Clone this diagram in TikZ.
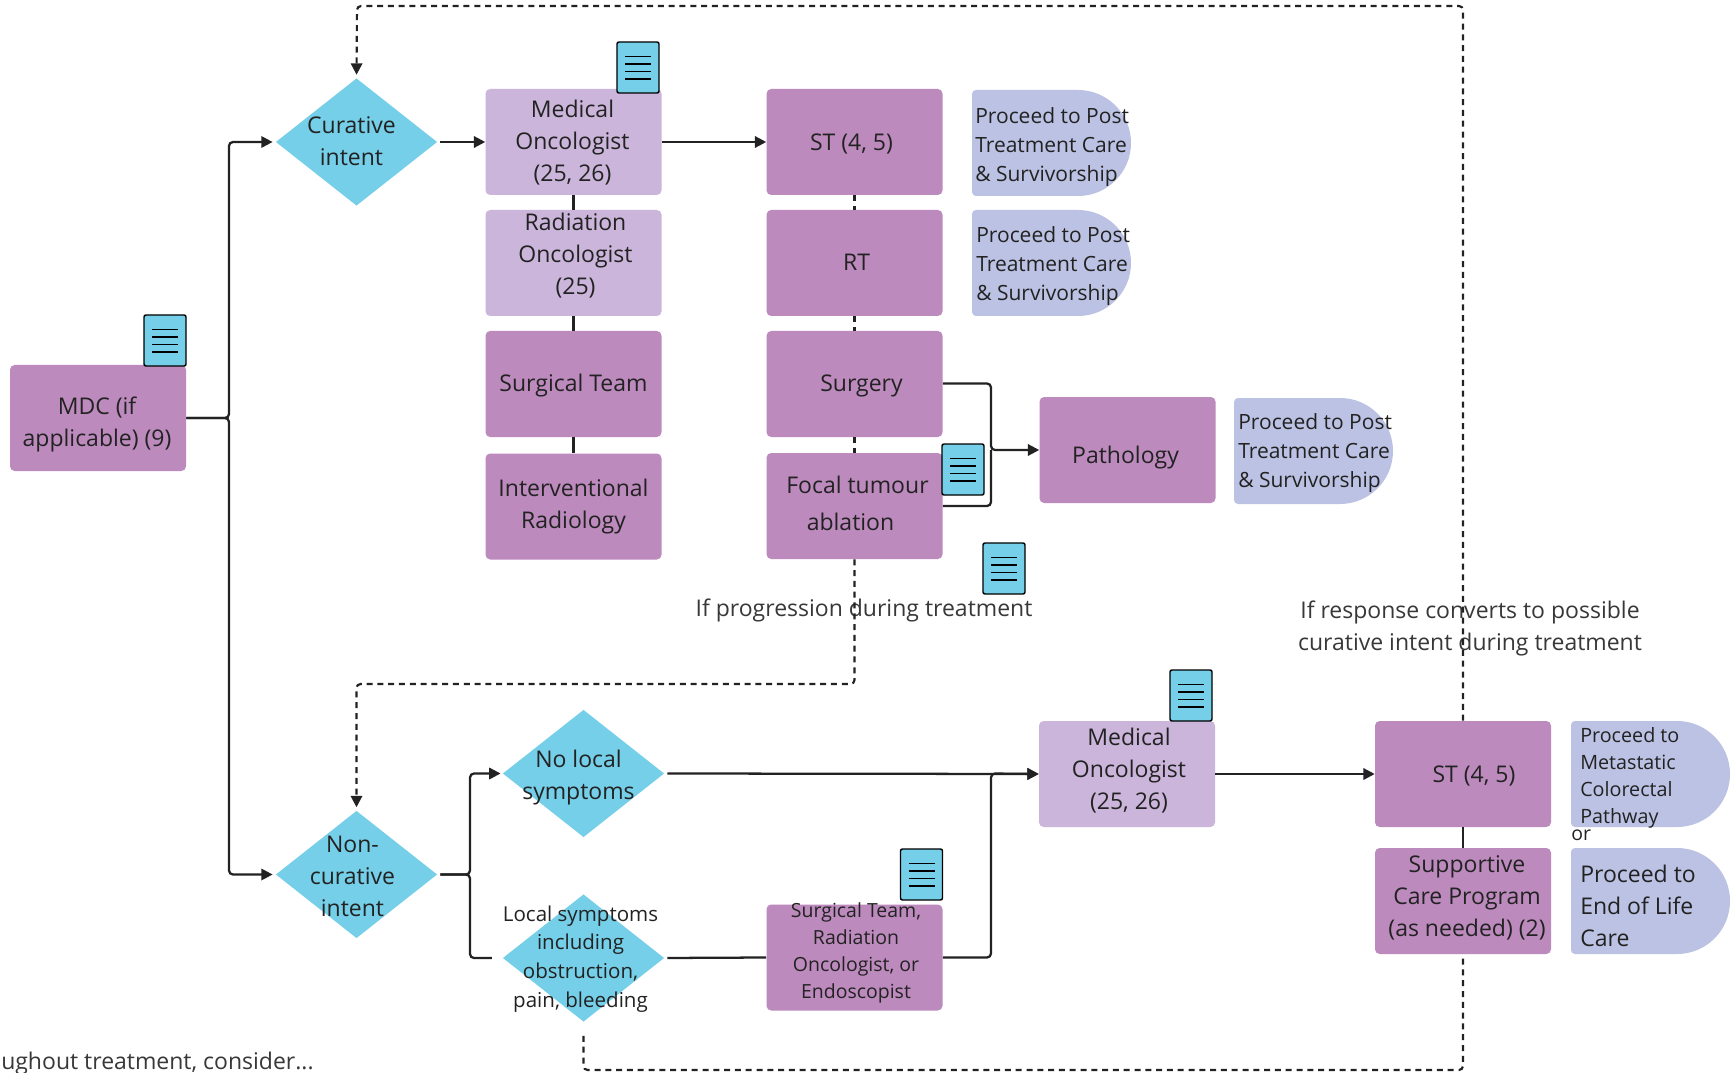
\documentclass[tikz,border=0pt]{standalone}
\usepackage{fontspec}
\setmainfont{Open Sans}
\usetikzlibrary{arrows.meta,shapes.geometric}
\definecolor{darkp}{HTML}{BC8ABD}
\definecolor{lightp}{HTML}{CBB5DA}
\definecolor{procb}{HTML}{BCC2E3}
\definecolor{cyanb}{HTML}{75CFE8}
\definecolor{ink}{HTML}{222222}
\tikzset{
  x=0.75pt,y=-0.75pt,
  boxbase/.style={rectangle,rounded corners=3.5pt,minimum width=132pt,minimum height=79.5pt,inner sep=0pt},
  darkbox/.style={boxbase,fill=darkp},
  lightbox/.style={boxbase,fill=lightp},
  dia/.style={diamond,aspect=1.27,fill=cyanb,minimum width=121pt,minimum height=95.5pt,inner sep=0pt},
  txt/.style={font=\fontsize{17.25}{24}\selectfont,align=center,text=ink,inner sep=0pt},
  txts/.style={font=\fontsize{14.6}{20.25}\selectfont,align=center,text=ink,inner sep=0pt},
  txtd/.style={font=\fontsize{15.4}{21.6}\selectfont,align=center,text=ink,inner sep=0pt},
  txtp/.style={font=\fontsize{15.75}{21.75}\selectfont,align=left,anchor=west,text=ink,inner sep=0pt},
  lab/.style n args={3}{label={[txt,shift={(#1,#2)}]center:{#3}}},
  labs/.style n args={3}{label={[txts,shift={(#1,#2)}]center:{#3}}},
  labd/.style n args={3}{label={[txtd,shift={(#1,#2)}]center:{#3}}},
  plain/.style={txt,text=ink!90},
  conn/.style={draw=ink,line width=1.7pt,rounded corners=3pt},
  arr/.style={-{Triangle[length=8.5pt,width=8.5pt]}},
  dashline/.style={draw=ink,line width=1.6pt,rounded corners=3pt,dash pattern=on 4.5pt off 3.6pt},
  procfill/.style={fill=procb},
  docicon/.pic={
    \draw[fill=cyanb,draw=black,line width=1.1pt,rounded corners=1.5pt] (-21,-25.5) rectangle (21,25.5);
    \foreach \yy in {-11,-3.5,4,11.5} \draw[black,line width=0.9pt] (-13,\yy) -- (13,\yy);
  }
}
\newcommand{\procshape}[2]{\fill[procfill,rounded corners=0pt] (#1+4,#2) -- (#1+106,#2) arc[start angle=90,end angle=-90,radius=39.75pt] -- (#1+4,#2+106) arc[start angle=270,end angle=180,radius=3pt] -- (#1,#2+4) arc[start angle=180,end angle=90,radius=3pt] -- cycle;}
\begin{document}
\begin{tikzpicture}
\useasboundingbox (0,0) rectangle (1732,1073);
\fill[white] (0,0) rectangle (1732,1073);
% proceed shapes
\procshape{972}{90}
\procshape{972}{210}
\procshape{1234}{398}
\procshape{1571}{721}
\procshape{1571}{848}
% boxes
\node[darkbox,lab={-1}{6}{MDC (if\\applicable) (9)}] (mdc) at (98,418) {};
\node[dia,lab={-5}{-1}{Curative\\intent}] (cur) at (356.5,142) {};
\node[lightbox,lab={-1}{0.5}{Medical\\Oncologist\\(25, 26)}] (medA) at (573.5,142) {};
\node[lightbox,lab={2}{-7}{Radiation\\Oncologist\\(25)}] (rad) at (573.5,263) {};
\node[darkbox,lab={0}{2}{Surgical Team}] (surgt) at (573.5,384) {};
\node[darkbox,lab={0}{0.5}{Interventional\\Radiology}] (ir) at (573.5,506.5) {};
\node[darkbox,lab={-3}{2}{ST (4, 5)}] (stA) at (854.5,142) {};
\node[darkbox,lab={2}{-1}{RT}] (rt) at (854.5,263) {};
\node[darkbox,lab={7}{2}{Surgery}] (surg) at (854.5,384) {};
\node[darkbox,lab={-0.5}{-2.5}{\hspace*{5.25pt}Focal tumour\\[3.5pt]ablation\hspace*{5.25pt}}] (focal) at (854.5,506) {};
\node[darkbox,lab={-2}{7.5}{Pathology}] (path) at (1127.5,450) {};
\node[lightbox,lab={2}{-3}{Medical\\Oncologist\\(25, 26)}] (medB) at (1127,774) {};
\node[darkbox,lab={11}{2}{ST (4, 5)}] (stB) at (1463,774) {};
\node[darkbox,lab={4}{-3}{Supportive\\Care Program\\(as needed) (2)}] (supp) at (1463,901) {};
\node[darkbox,labs={1.5}{-5}{Surgical Team,\\Radiation\\Oncologist, or\\Endoscopist}] (sre) at (854.5,957.5) {};
\node[dia,lab={-4}{2}{Non-\\curative\\intent}] (non) at (356.5,874.5) {};
\node[dia,lab={-5}{4}{No local\\symptoms}] (nol) at (583.5,773.5) {};
\node[dia,labd={-3}{1}{Local symptoms\\including\\obstruction,\\pain, bleeding}] (loc) at (583.5,958) {};
% proceed text
\node[txtp] (p1) at (975,147) {Proceed to Post\\Treatment Care\\\& Survivorship};
\node[txtp] (p2) at (976,266.5) {Proceed to Post\\Treatment Care\\\& Survivorship};
\node[txtp] (p3) at (1238,453.5) {Proceed to Post\\Treatment Care\\\& Survivorship};
\node[txtp,font=\fontsize{14.8}{20.25}\selectfont] (p4) at (1580,778) {Proceed to\\Metastatic\\Colorectal\\Pathway};
\node[txt,align=left,anchor=west] (p5) at (1580,906) {Proceed to\\End of Life\\Care};
\node[txts,anchor=west] (orl) at (1571,835) {or};
% free labels
\node[plain] (lprog) at (864,610) {If progression during treatment};
\node[plain] (lresp) at (1470,628.5) {If response converts to possible\\curative intent during treatment};
\node[plain,anchor=west] (lthru) at (1,1064) {ughout treatment, consider...};
% junction coordinates
\coordinate (j1) at (229,418);
\coordinate (j2) at (470,874.5);
\coordinate (j3) at (991,450);
\coordinate (j4) at (991,773.5);
\coordinate (tr) at (1463,6);
\coordinate (tl) at (357,6);
\coordinate (m1) at (854.5,684);
\coordinate (m2) at (356.5,684);
\coordinate (b1) at (583.5,1070);
\coordinate (b2) at (1463,1070);
% solid connectors
\draw[conn,arr,shorten >=2.2pt] (mdc.east) -- (j1) |- (cur.west);
\draw[conn,arr,shorten >=2.2pt] (mdc.east) -- (j1) |- (non.west);
\draw[conn,arr,shorten <=2.2pt] (cur.east) -- (medA.west);
\draw[conn,arr] (medA.east) -- (stA.west);
\draw[conn] (medA.south) -- (rad.north);
\draw[conn] (rad.south) -- (surgt.north);
\draw[conn] (surgt.south) -- (ir.north);
\draw[conn,arr] (surg.east |- 0,383.5) -| (j3) -- (path.west);
\draw[conn] (focal.east) -| (j3);
\draw[conn,arr,shorten >=1.5pt,shorten <=2.2pt] (non.east) -- (j2) |- (nol.west);
\draw[conn,shorten >=8pt,shorten <=2.2pt] (non.east) -- (j2) |- (loc.west);
\draw[conn,arr,shorten <=2.2pt] (nol.east) -- (medB.west);
\draw[conn,shorten <=2.2pt] (loc.east) -- (sre.west);
\draw[conn,arr] (sre.east) -| (j4) -- (medB.west);
\draw[conn,arr] (medB.east) -- (stB.west);
\draw[conn] (stB.south) -- (supp.north);
% dashed connectors
\draw[dashline] (stA.south) -- (rt.north);
\draw[dashline] (rt.south) -- (surg.north);
\draw[dashline] (surg.south) -- (focal.north);
\draw[dashline,arr,shorten >=2.5pt] (focal.south) -- (m1) -- (m2) -- (non.north);
\draw[dashline,arr,shorten >=2.5pt] (stB.north) -- (tr) -- (tl) -- (cur.north);
\draw[dashline,shorten <=10.5pt] (loc.south) -- (b1) -- (b2) -- (supp.south);
% document icons
\pic at (165,340.5) {docicon};
\pic at (638,67.5) {docicon};
\pic at (963,469.5) {docicon};
\pic at (1004,568.5) {docicon};
\pic at (1191,695.5) {docicon};
\pic at (921.5,874.5) {docicon};
\end{tikzpicture}
\end{document}
